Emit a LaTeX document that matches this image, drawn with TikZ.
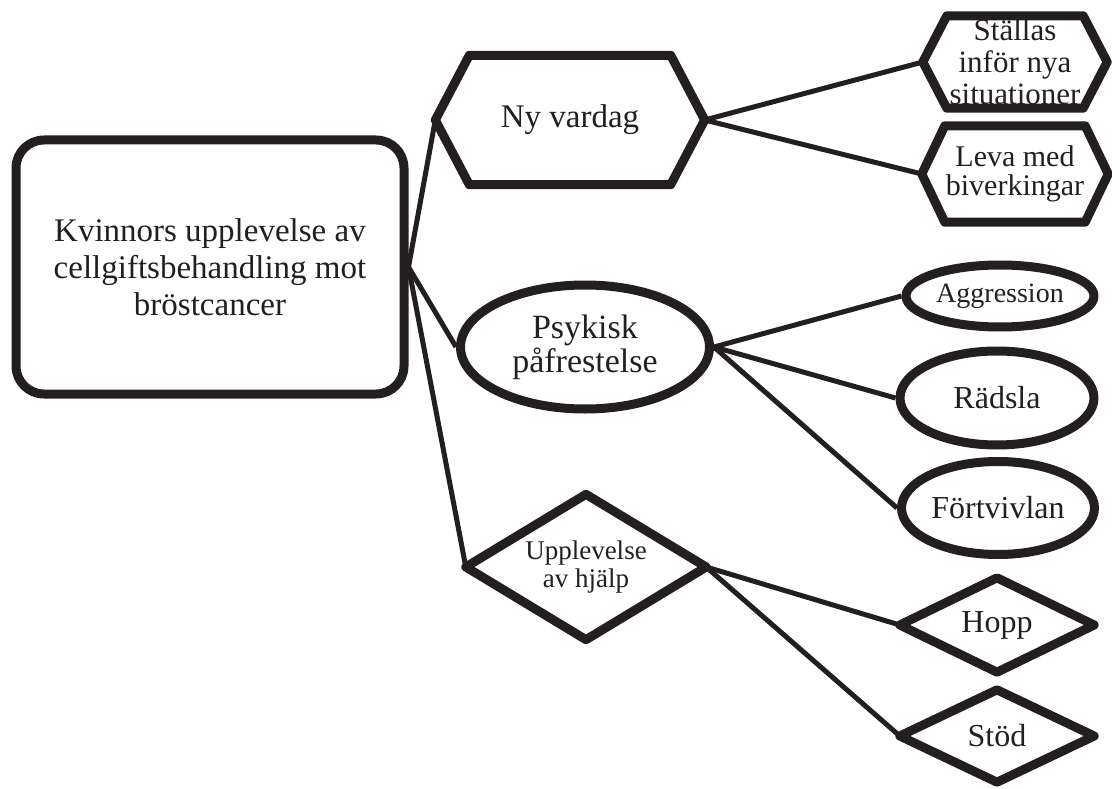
\documentclass[tikz,border=0pt]{standalone}
\usepackage{fontspec}
\setmainfont{Liberation Serif}
\usetikzlibrary{shapes.geometric,shadows,backgrounds}
\definecolor{ink}{RGB}{35,31,32}
\newcommand\hexpath[2]{%
  \draw[shapeline,shadowed] (#1.west) -- ([xshift=#2]#1.north west) -- ([xshift=-#2]#1.north east)
    -- (#1.east) -- ([xshift=-#2]#1.south east) -- ([xshift=#2]#1.south west) -- cycle;}
\newcommand\diapath[1]{%
  \draw[shapeline,shadowed] (#1.west) -- (#1.north) -- (#1.east) -- (#1.south) -- cycle;}
\begin{document}
\begin{tikzpicture}[x=1pt,y=-1pt,
  shapeline/.style={draw=ink, line width=9pt, line join=round, fill=white},
  conn/.style={draw=ink, line width=5pt},
  shadowed/.style={drop shadow={opacity=0.15, shadow xshift=2pt, shadow yshift=-3pt, fill=black}},
  box/.style={shapeline, shadowed, rectangle, rounded corners=28pt, align=center, inner sep=0pt, text=ink},
  oval/.style={shapeline, shadowed, ellipse, inner sep=0pt, align=center, text=ink},
  frame/.style={inner sep=0pt, align=center, text=ink},
]
\useasboundingbox (0,0) rectangle (1112,789);

% root
\node[box, minimum width=388pt, minimum height=254pt, font=\fontsize{33}{37}\selectfont] (main) at (210,267)
  {Kvinnors upplevelse av\\cellgiftsbehandling mot\\bröstcancer};

% hexagon nodes (outline drawn on background)
\node[frame, minimum width=269pt, minimum height=129pt, font=\fontsize{33}{36}\selectfont] (ny) at (570,120) {Ny vardag};
\node[frame, minimum width=184pt, minimum height=92pt, font=\fontsize{31}{32}\selectfont] (st) at (1015,62) {Ställas\\inför nya\\situationer};
\node[frame, minimum width=186pt, minimum height=96pt, font=\fontsize{30}{29}\selectfont] (leva) at (1015,174) {Leva med\\biverkingar};

% ellipses
\node[oval, minimum width=249pt, minimum height=124pt, font=\fontsize{34}{34}\selectfont] (psy) at (585,347) {Psykisk\\påfrestelse};
\node[oval, minimum width=188pt, minimum height=62pt, font=\fontsize{28}{28}\selectfont] (agg) at (1000,296) {Aggression};
\node[oval, minimum width=194pt, minimum height=94pt, font=\fontsize{32}{32}\selectfont] (rad) at (997,398) {Rädsla};
\node[oval, minimum width=193pt, minimum height=93pt, font=\fontsize{32}{32}\selectfont] (fort) at (998,508) {Förtvivlan};

% diamond nodes (outline drawn on background)
\node[frame, minimum width=240pt, minimum height=145pt, font=\fontsize{27}{28}\selectfont] (upp) at (586,567) {Upplevelse\\av hjälp};
\node[frame, minimum width=194pt, minimum height=94pt, font=\fontsize{32}{32}\selectfont] (hopp) at (997,625) {Hopp};
\node[frame, minimum width=194pt, minimum height=92pt, font=\fontsize{32}{32}\selectfont] (stod) at (997,736) {Stöd};

\begin{scope}[on background layer]
  \hexpath{ny}{34pt}
  \hexpath{st}{24pt}
  \hexpath{leva}{23pt}
  \diapath{upp}
  \diapath{hopp}
  \diapath{stod}
\end{scope}

% connectors
\draw[conn] (main.east) -- (ny.west);
\draw[conn] (main.east) -- (psy.west);
\draw[conn] (main.east) -- (upp.west);
\draw[conn] (ny.east) -- (st.west);
\draw[conn] (ny.east) -- (leva.west);
\draw[conn] (psy.east) -- (agg.west);
\draw[conn] (psy.east) -- (rad.west);
\draw[conn] (psy.east) -- (fort.west);
\draw[conn] (upp.east) -- (hopp.west);
\draw[conn] (upp.east) -- (stod.west);
\end{tikzpicture}
\end{document}
